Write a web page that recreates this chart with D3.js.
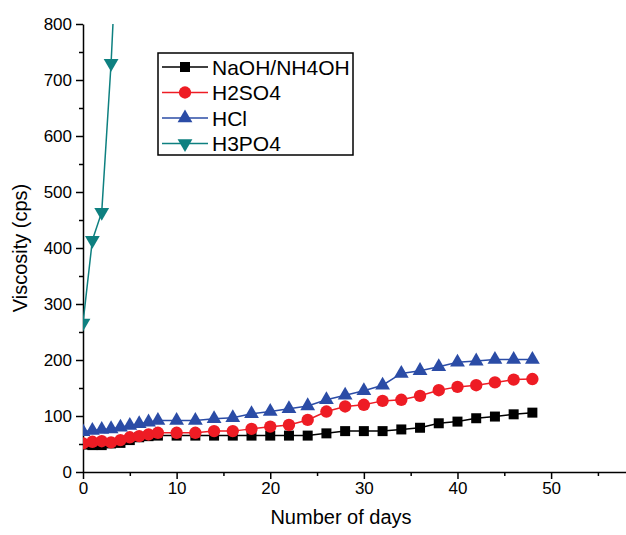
<!DOCTYPE html>
<html>
<head>
<meta charset="utf-8">
<script src="https://cdn.jsdelivr.net/npm/d3@7"></script>
<style>
  body { margin: 0; background: #fff; }
  text { font-family: "Liberation Sans", Arial, sans-serif; }
</style>
</head>
<body>
<div id="viz"></div>
<script>
/***************** Data ******************************************/
var days = [0, 1, 2, 3, 4, 5, 6, 7, 8, 10, 12, 14, 16, 18, 20, 22, 24, 26, 28, 30, 32, 34, 36, 38, 40, 42, 44, 46, 48];
var naoh = [49, 48, 48, 51, 52, 57, 62, 64, 65, 65, 65, 65, 65, 65, 65, 65, 65, 69, 73, 73, 73, 76, 79, 87, 90, 96, 99, 103, 106];
var h2so4 = [51, 54, 55, 53, 57, 62, 64, 67, 70, 70, 70, 73, 73, 77, 81, 84, 93, 108, 117, 120, 127, 129, 136, 146, 152, 155, 160, 165, 166];
var hcl = [72, 74, 76, 77, 80, 83, 86, 89, 92, 92, 92, 95, 97, 104, 108, 113, 118, 129, 137, 145, 155, 176, 181, 188, 196, 198, 201, 201, 201];
var h3po4Days = [0, 1, 2, 3, 4];
var h3po4 = [266, 414, 464, 730, 1080];

var seriesNames = ["NaOH/NH4OH", "H2SO4", "HCl", "H3PO4"];
var xTicks = [0, 10, 20, 30, 40, 50];
var yTicks = [0, 100, 200, 300, 400, 500, 600, 700, 800];

/***************** Layout *********************/
var w = 626, h = 535,
    plotLeft = 83, plotRight = 626, plotTop = 24, plotBottom = 472;

var styles = [
  { color: "#000000", shape: d3.symbolSquare, size: 100, rot: 0 },
  { color: "#ee1c24", shape: d3.symbolCircle, size: 120, rot: 0 },
  { color: "#2b4ca6", shape: d3.symbolTriangle, size: 95, rot: 0 },
  { color: "#0e8080", shape: d3.symbolTriangle, size: 95, rot: 180 }
];

var series = [
  { name: seriesNames[0], pts: days.map(function(d, i) { return [d, naoh[i]]; }) },
  { name: seriesNames[1], pts: days.map(function(d, i) { return [d, h2so4[i]]; }) },
  { name: seriesNames[2], pts: days.map(function(d, i) { return [d, hcl[i]]; }) },
  { name: seriesNames[3], pts: h3po4Days.map(function(d, i) { return [d, h3po4[i]]; }) }
];

var svg = d3.select("#viz").append("svg")
    .attr("width", w)
    .attr("height", h);

var x = d3.scaleLinear().domain([0, 58]).range([plotLeft, plotRight]);
var y = d3.scaleLinear().domain([0, 800]).range([plotBottom, plotTop]);

svg.append("defs").append("clipPath")
    .attr("id", "plot")
  .append("rect")
    .attr("x", plotLeft)
    .attr("y", plotTop)
    .attr("width", plotRight - plotLeft)
    .attr("height", plotBottom - plotTop);

/* minor ticks */
svg.append("g")
    .attr("transform", "translate(0," + plotBottom + ")")
    .call(d3.axisBottom(x).tickValues([5, 15, 25, 35, 45, 55]).tickSize(4).tickFormat(""))
    .call(function(g) { g.select(".domain").remove(); });
svg.append("g")
    .attr("transform", "translate(" + plotLeft + ",0)")
    .call(d3.axisLeft(y).tickValues([50, 150, 250, 350, 450, 550, 650, 750]).tickSize(4).tickFormat(""))
    .call(function(g) { g.select(".domain").remove(); });

/* major axes */
var xAxis = svg.append("g")
    .attr("transform", "translate(0," + plotBottom + ")")
    .call(d3.axisBottom(x).tickValues(xTicks).tickSize(7).tickSizeOuter(0).tickPadding(3));
var yAxis = svg.append("g")
    .attr("transform", "translate(" + plotLeft + ",0)")
    .call(d3.axisLeft(y).tickValues(yTicks).tickSize(7).tickSizeOuter(0).tickPadding(4));

svg.selectAll(".tick line, .domain")
    .attr("stroke", "#000")
    .attr("stroke-width", 1.5);
xAxis.selectAll("text").style("font-size", "17px").attr("fill", "#000");
yAxis.selectAll("text").style("font-size", "17px").attr("fill", "#000");

svg.append("text")
    .attr("x", 341)
    .attr("y", 524)
    .attr("text-anchor", "middle")
    .style("font-size", "20px")
    .text("Number of days");

svg.append("text")
    .attr("transform", "translate(27," + ((plotTop + plotBottom) / 2) + ") rotate(-90)")
    .attr("text-anchor", "middle")
    .style("font-size", "20px")
    .text("Viscosity (cps)");

/***************** Series *********************/
var plot = svg.append("g").attr("clip-path", "url(#plot)");
var line = d3.line()
    .x(function(d) { return x(d[0]); })
    .y(function(d) { return y(d[1]); });

series.forEach(function(s, i) {
  var st = styles[i];
  plot.append("path")
      .datum(s.pts)
      .attr("fill", "none")
      .attr("stroke", st.color)
      .attr("stroke-width", 1.5)
      .attr("d", line);
  plot.selectAll(".m" + i)
      .data(s.pts)
    .enter().append("path")
      .attr("class", "m" + i)
      .attr("transform", function(d) {
        return "translate(" + x(d[0]) + "," + y(d[1]) + ") rotate(" + st.rot + ")";
      })
      .attr("d", d3.symbol().type(st.shape).size(st.size))
      .attr("fill", st.color);
});

/***************** Legend *********************/
var legend = svg.append("g");
legend.append("rect")
    .attr("x", 158)
    .attr("y", 53)
    .attr("width", 195)
    .attr("height", 102)
    .attr("fill", "#fff")
    .attr("stroke", "#000")
    .attr("stroke-width", 1.5);

seriesNames.forEach(function(name, i) {
  var st = styles[i];
  var ly = 67 + i * 25.5;
  legend.append("line")
      .attr("x1", 162).attr("x2", 208)
      .attr("y1", ly).attr("y2", ly)
      .attr("stroke", st.color)
      .attr("stroke-width", 1.5);
  legend.append("path")
      .attr("transform", "translate(185," + ly + ") rotate(" + st.rot + ")")
      .attr("d", d3.symbol().type(st.shape).size(st.size))
      .attr("fill", st.color);
  legend.append("text")
      .attr("x", 212)
      .attr("y", ly + 7.5)
      .style("font-size", "21px")
      .text(name);
});
</script>
</body>
</html>
